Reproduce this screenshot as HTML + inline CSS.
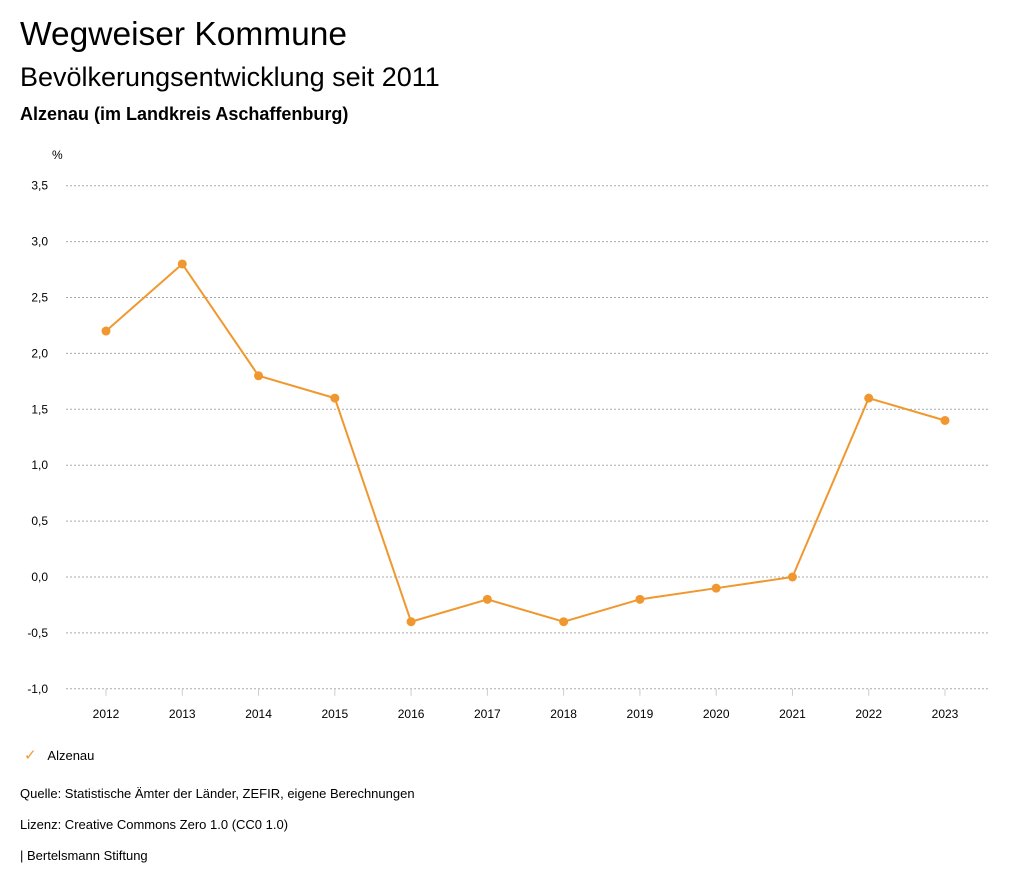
<!DOCTYPE html>
<html><head><meta charset="utf-8"><style>
body{margin:0;background:#fff;font-family:"Liberation Sans","DejaVu Sans",sans-serif;color:#000;}
.t{position:absolute;white-space:nowrap;}
</style></head><body>
<div style="position:relative;width:1024px;height:888px;overflow:hidden;">
<div class="t" style="left:20px;top:16px;font-size:33.5px;">Wegweiser Kommune</div>
<div class="t" style="left:20px;top:62px;font-size:27px;">Bevölkerungsentwicklung seit 2011</div>
<div class="t" style="left:20px;top:104px;font-size:18px;font-weight:bold;">Alzenau (im Landkreis Aschaffenburg)</div>
<svg id="chart" width="1024" height="888" style="position:absolute;left:0;top:0"></svg>
<div class="t" style="left:24px;top:746px;font-size:13px;"><span style="color:#f0982f;font-size:15px;">✓</span>&nbsp;&nbsp;&nbsp;Alzenau</div>
<div class="t" style="left:20px;top:786px;font-size:13px;">Quelle: Statistische Ämter der Länder, ZEFIR, eigene Berechnungen</div>
<div class="t" style="left:20px;top:817px;font-size:13px;">Lizenz: Creative Commons Zero 1.0 (CC0 1.0)</div>
<div class="t" style="left:20px;top:848px;font-size:13px;">| Bertelsmann Stiftung</div>
</div>
<script>
const years=["2012","2013","2014","2015","2016","2017","2018","2019","2020","2021","2022","2023"];
const values=[2.2,2.8,1.8,1.6,-0.4,-0.2,-0.4,-0.2,-0.1,0.0,1.6,1.4];
const yTicks=[3.5,3.0,2.5,2.0,1.5,1.0,0.5,0.0,-0.5,-1.0];
const NS="http://www.w3.org/2000/svg";
const svg=document.getElementById('chart');
function y(v){return 577-(v)*111.8;}
function x(i){return 106+i*(945-106)/(years.length-1);}
function mk(t,a,p){const e=document.createElementNS(NS,t);for(const k in a)e.setAttribute(k,a[k]);(p||svg).appendChild(e);return e;}
let u=mk('text',{x:52,y:159,'font-size':12,fill:'#000'});u.textContent='%';


yTicks.forEach(v=>{
 const l=mk('line',{x1:66,x2:990,y1:y(v),y2:y(v),stroke:'#aaa','stroke-dasharray':'2,2','stroke-width':1});
 
 
 const t=mk('text',{x:48,y:y(v)+4,'font-size':12,'text-anchor':'end',fill:'#000'});
 t.textContent=v.toFixed(1).replace('.',',');
 
 
});
years.forEach((yr,i)=>{
 const tk=mk('line',{x1:x(i),x2:x(i),y1:y(-1),y2:y(-1)+7,stroke:'#ccc'});
 
 
 const t=mk('text',{x:x(i),y:718,'font-size':12,'text-anchor':'middle',fill:'#000'});
 t.textContent=yr;
 
 
});
const path=mk('polyline',{points:values.map((v,i)=>x(i)+','+y(v)).join(' '),fill:'none',stroke:'#f0982f','stroke-width':2});


values.forEach((v,i)=>{
 const c=mk('circle',{cx:x(i),cy:y(v),r:4.5,fill:'#f0982f'});
 
 
});
</script>
</body></html>
